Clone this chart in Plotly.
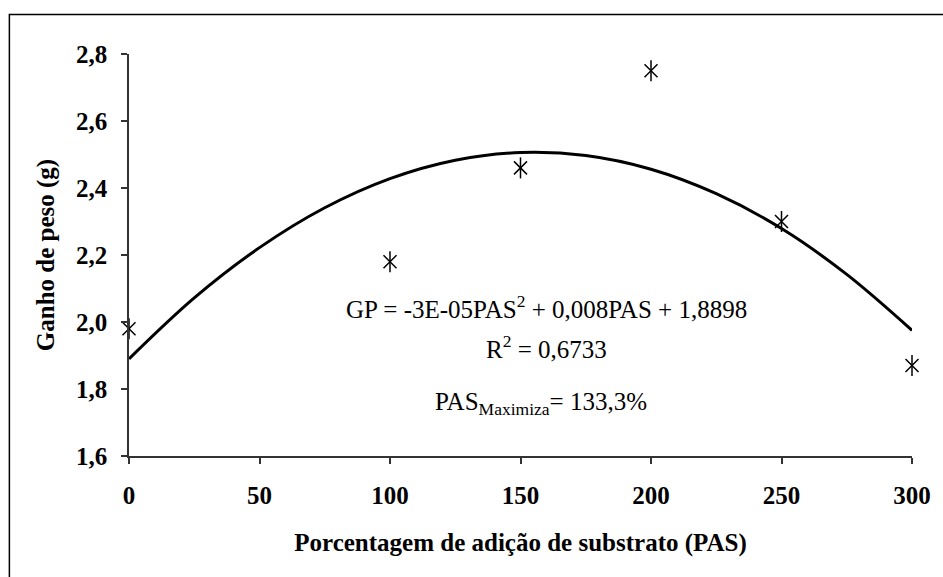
import plotly.graph_objects as go

# Observed data
pas = [0, 100, 150, 200, 250, 300]
ganho = [1.98, 2.18, 2.46, 2.75, 2.30, 1.87]

# Trend line values
curve_x = [0, 25, 50, 75, 100, 125, 150, 175, 200, 225, 250, 275, 300]
curve_y = [1.890, 2.072, 2.222, 2.341, 2.428, 2.483, 2.506, 2.497, 2.456, 2.383, 2.279, 2.142, 1.975]

x_ticks = [0, 50, 100, 150, 200, 250, 300]
y_ticks = [1.6, 1.8, 2.0, 2.2, 2.4, 2.6, 2.8]
y_labels = ["1,6", "1,8", "2,0", "2,2", "2,4", "2,6", "2,8"]

FONT = "Liberation Serif, Times New Roman, serif"

fig = go.Figure()
fig.add_trace(go.Scatter(x=curve_x, y=curve_y, mode="lines", line=dict(color="black", width=3, shape="spline"),
                         hoverinfo="skip", showlegend=False))
fig.add_trace(go.Scatter(x=pas, y=ganho, mode="markers", cliponaxis=False,
                         marker=dict(symbol="x-thin-open", size=13, color="black", line=dict(color="black", width=1.5)),
                         showlegend=False))
fig.add_trace(go.Scatter(x=pas, y=ganho, mode="markers", cliponaxis=False,
                         marker=dict(symbol="line-ns-open", size=15, color="black", line=dict(color="black", width=1.5)),
                         showlegend=False))

ann_font = dict(family=FONT, size=25, color="black")
fig.add_annotation(x=160, y=2.045, xref="x", yref="y", showarrow=False,
                   text="GP = -3E-05PAS<sup>2</sup> + 0,008PAS + 1,8898", font=ann_font)
fig.add_annotation(x=160, y=1.925, xref="x", yref="y", showarrow=False,
                   text="R<sup>2</sup> = 0,6733", font=ann_font)
fig.add_annotation(x=158, y=1.758, xref="x", yref="y", showarrow=False,
                   text="PAS<sub>Maximiza</sub>= 133,3%", font=ann_font)

# outer frame (extends past the image on right/bottom)
fig.add_shape(type="rect", xref="paper", yref="paper",
              x0=(8 - 129) / 792, x1=(1100 - 129) / 792,
              y0=(456 - 700) / 401.5, y1=(456 - 15) / 401.5,
              line=dict(color="black", width=1.5), fillcolor="rgba(0,0,0,0)", layer="below")

fig.update_layout(
    width=943, height=577,
    margin=dict(l=129, r=22, t=54, b=121),
    paper_bgcolor="white", plot_bgcolor="white",
    font=dict(family=FONT, color="black"),
    xaxis=dict(range=[0, 300], tickvals=x_ticks, ticktext=[str(v) for v in x_ticks],
               showgrid=False, zeroline=False, showline=True, linecolor="#333", linewidth=1.5,
               ticks="outside", ticklen=6, tickcolor="#333", tickwidth=1.5, ticklabelstandoff=10,
               tickfont=dict(family=FONT, size=25, color="black", weight="bold"),
               title=dict(text="<b>Porcentagem de adição de substrato (PAS)</b>",
                          font=dict(family=FONT, size=25, color="black"), standoff=26)),
    yaxis=dict(range=[1.6, 2.8], tickvals=y_ticks, ticktext=y_labels,
               showgrid=False, zeroline=False, showline=True, linecolor="#333", linewidth=1.5,
               ticks="outside", ticklen=6, tickcolor="#333", tickwidth=1.5, ticklabelstandoff=9,
               tickfont=dict(family=FONT, size=25, color="black", weight="bold"),
               title=dict(text="<b>Ganho de peso (g)</b>",
                          font=dict(family=FONT, size=25, color="black"), standoff=14)),
)

fig.write_html("out.html", config={"displayModeBar": False},
               post_script="document.body.style.margin='0';document.body.style.overflow='hidden';")
